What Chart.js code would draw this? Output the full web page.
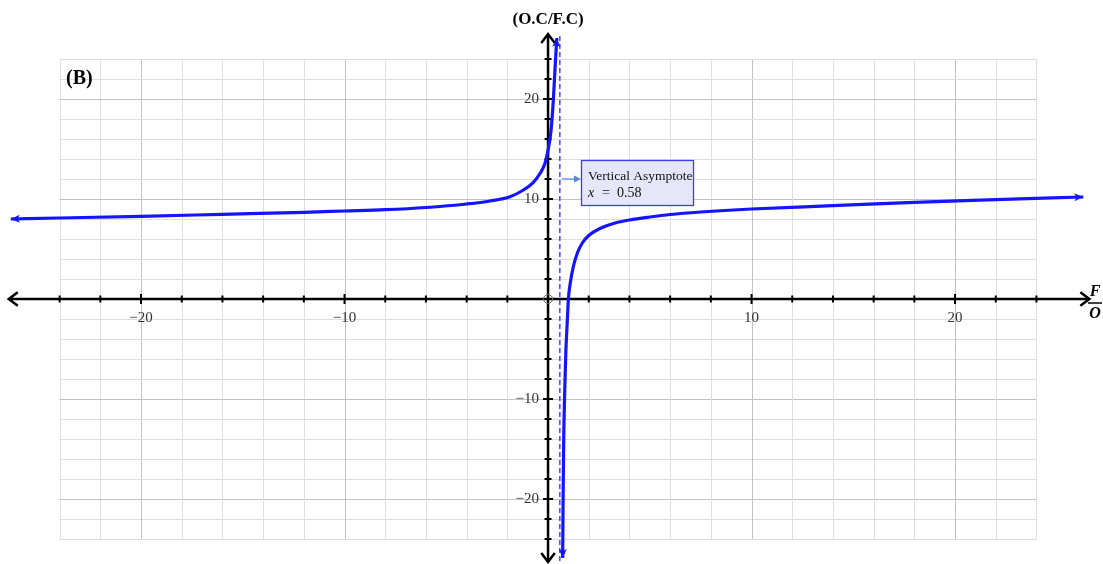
<!DOCTYPE html>
<html>
<head>
<meta charset="utf-8">
<script src="https://cdn.jsdelivr.net/npm/chart.js@4/dist/chart.umd.min.js"></script>
<style>
  body { margin: 0; background: #fff; }
  #wrap { width: 1103px; height: 564px; }
</style>
</head>
<body>
<div id="wrap"><canvas id="plot" width="1103" height="564"></canvas></div>
<script>
// curve, left branch and right branch of the asymptote
const leftX = [-26.4, -24, -20, -16, -12, -10, -8, -6, -4, -2.85, -1.87, -1.21, -0.72, -0.39, -0.15, 0, 0.15, 0.26, 0.34, 0.43];
const leftY = [8.0, 8.1, 8.27, 8.47, 8.67, 8.8, 8.93, 9.15, 9.5, 9.8, 10.23, 10.9, 11.67, 12.57, 13.57, 14.9, 16.9, 19.9, 22.9, 26.1];
const rightX = [0.72, 0.74, 0.77, 0.81, 0.85, 0.88, 0.92, 0.96, 1.0, 1.1, 1.25, 1.45, 1.7, 2.0, 2.5, 3.3, 4, 5, 6, 7.5, 10, 14, 18, 22, 26.3];
const rightY = [-25.9, -20, -14, -10, -7, -5, -3.3, -1.6, 0, 1.7, 3.3, 4.65, 5.65, 6.35, 7.0, 7.6, 7.9, 8.2, 8.45, 8.7, 9.0, 9.33, 9.67, 9.93, 10.2];
const asymptoteX = 0.58;
const xTickLabels = [-20, -10, 10, 20];
const yTickLabels = [20, 10, -10, -20];

const toPoints = (xs, ys) => xs.map((x, i) => ({ x: x, y: ys[i] }));
const serif = '"Liberation Serif", "Times New Roman", serif';
const curveColor = "#1414ff";

function arrowHead(ctx, x, y, ang, size) {
  ctx.save();
  ctx.translate(x, y);
  ctx.rotate(ang);
  ctx.beginPath();
  ctx.moveTo(0, 0);
  ctx.lineTo(-size, -size * 0.45);
  ctx.lineTo(-size * 0.75, 0);
  ctx.lineTo(-size, size * 0.45);
  ctx.closePath();
  ctx.fill();
  ctx.restore();
}

function chevron(ctx, x, y, ang, size) {
  ctx.save();
  ctx.translate(x, y);
  ctx.rotate(ang);
  ctx.beginPath();
  ctx.moveTo(-size, -size * 0.75);
  ctx.lineTo(0, 0);
  ctx.lineTo(-size, size * 0.75);
  ctx.stroke();
  ctx.restore();
}

const graphPaper = {
  id: "graphPaper",
  beforeDatasetsDraw(chart) {
    const ctx = chart.ctx;
    const sx = chart.scales.x, sy = chart.scales.y;
    const x0 = sx.getPixelForValue(0), y0 = sy.getPixelForValue(0);
    const gl = sx.getPixelForValue(-24), gr = sx.getPixelForValue(24);
    const gt = sy.getPixelForValue(24), gb = sy.getPixelForValue(-24);
    ctx.save();
    ctx.lineWidth = 1;
    for (let v = -24; v <= 24; v += 2) {
      ctx.strokeStyle = v % 10 === 0 ? "#c2c2c2" : "#dedede";
      const px = Math.round(sx.getPixelForValue(v)) + 0.5;
      ctx.beginPath(); ctx.moveTo(px, gt); ctx.lineTo(px, gb); ctx.stroke();
      const py = Math.round(sy.getPixelForValue(v)) + 0.5;
      ctx.beginPath(); ctx.moveTo(gl, py); ctx.lineTo(gr, py); ctx.stroke();
    }

    // axes
    ctx.strokeStyle = "#000";
    ctx.lineWidth = 2.5;
    const axL = sx.getPixelForValue(-26.5), axR = sx.getPixelForValue(26.6);
    const axT = sy.getPixelForValue(26.5), axB = sy.getPixelForValue(-26.3);
    ctx.beginPath(); ctx.moveTo(axL, y0); ctx.lineTo(axR, y0); ctx.stroke();
    ctx.beginPath(); ctx.moveTo(x0, axT); ctx.lineTo(x0, axB); ctx.stroke();
    chevron(ctx, axL, y0, Math.PI, 9);
    chevron(ctx, axR, y0, 0, 9);
    chevron(ctx, x0, axT, -Math.PI / 2, 9);
    chevron(ctx, x0, axB, Math.PI / 2, 9);

    ctx.lineWidth = 2;
    for (let v = -24; v <= 24; v += 2) {
      if (v === 0) continue;
      const len = v % 10 === 0 ? 5 : 3.5;
      const px = sx.getPixelForValue(v);
      ctx.beginPath(); ctx.moveTo(px, y0 - len); ctx.lineTo(px, y0 + len); ctx.stroke();
      const py = sy.getPixelForValue(v);
      ctx.beginPath(); ctx.moveTo(x0 - len, py); ctx.lineTo(x0 + len, py); ctx.stroke();
    }

    // origin marker
    ctx.lineWidth = 1;
    ctx.strokeStyle = "#666";
    ctx.beginPath(); ctx.arc(x0, y0, 4.5, 0, Math.PI * 2); ctx.stroke();

    // tick labels
    ctx.fillStyle = "#333";
    ctx.font = "15px " + serif;
    ctx.textAlign = "center";
    ctx.textBaseline = "middle";
    xTickLabels.forEach((v) => {
      ctx.fillText(String(v).replace("-", "\u2212"), sx.getPixelForValue(v), y0 + 19);
    });
    ctx.textAlign = "right";
    yTickLabels.forEach((v) => {
      ctx.fillText(String(v).replace("-", "\u2212"), x0 - 9, sy.getPixelForValue(v));
    });

    // asymptote
    const ax = sx.getPixelForValue(asymptoteX);
    ctx.strokeStyle = "#2a2aff";
    ctx.lineWidth = 1.3;
    ctx.setLineDash([5, 3]);
    ctx.beginPath(); ctx.moveTo(ax, axT + 2); ctx.lineTo(ax, 564); ctx.stroke();
    ctx.setLineDash([]);
    ctx.restore();
  },
  afterDatasetsDraw(chart) {
    const ctx = chart.ctx;
    const sx = chart.scales.x, sy = chart.scales.y;
    const x0 = sx.getPixelForValue(0);
    ctx.save();
    ctx.fillStyle = curveColor;
    chart.data.datasets.forEach((ds, i) => {
      const pts = chart.getDatasetMeta(i).data;
      const a = pts[0], b = pts[1];
      arrowHead(ctx, a.x, a.y, Math.atan2(a.y - b.y, a.x - b.x), 9);
      const c = pts[pts.length - 1], d = pts[pts.length - 2];
      arrowHead(ctx, c.x, c.y, Math.atan2(c.y - d.y, c.x - d.x), 9);
    });

    // annotation
    const ax = sx.getPixelForValue(asymptoteX);
    const by = sy.getPixelForValue(12);
    ctx.strokeStyle = "#5a86d6";
    ctx.fillStyle = "#5a86d6";
    ctx.lineWidth = 1.2;
    ctx.beginPath(); ctx.moveTo(ax + 2, by); ctx.lineTo(575, by); ctx.stroke();
    ctx.beginPath(); ctx.moveTo(581, by); ctx.lineTo(574, by - 3.5); ctx.lineTo(574, by + 3.5); ctx.closePath(); ctx.fill();
    ctx.fillStyle = "#e6e6fa";
    ctx.fillRect(581.5, 160.5, 112, 45);
    ctx.strokeStyle = "#3c3cf0";
    ctx.lineWidth = 1.3;
    ctx.strokeRect(581.5, 160.5, 112, 45);
    ctx.fillStyle = "#111";
    ctx.textAlign = "left";
    ctx.textBaseline = "middle";
    ctx.font = "13.5px " + serif;
    ctx.fillText("Vertical Asymptote", 588, 176);
    ctx.font = "italic 14px " + serif;
    ctx.fillText("x", 588, 193);
    ctx.font = "14px " + serif;
    ctx.fillText("=  0.58", 602, 193);

    // titles
    ctx.fillStyle = "#000";
    ctx.strokeStyle = "#000";
    ctx.textAlign = "center";
    ctx.font = "bold 17px " + serif;
    ctx.fillText("(O.C/F.C)", x0, 20);
    ctx.font = "bold 20px " + serif;
    ctx.textAlign = "left";
    ctx.fillText("(B)", 66, 79);
    ctx.font = "italic bold 16px " + serif;
    ctx.textAlign = "center";
    ctx.fillText("F", 1095, 292);
    ctx.fillText("O", 1095, 314);
    ctx.lineWidth = 1.5;
    ctx.beginPath(); ctx.moveTo(1088, 303); ctx.lineTo(1102, 303); ctx.stroke();
    ctx.restore();
  },
};

const lineStyle = {
  showLine: true,
  borderColor: curveColor,
  borderWidth: 3.2,
  pointRadius: 0,
  cubicInterpolationMode: "monotone",
  fill: false,
};

new Chart(document.getElementById("plot"), {
  type: "scatter",
  data: {
    datasets: [
      Object.assign({ label: "left", data: toPoints(leftX, leftY) }, lineStyle),
      Object.assign({ label: "right", data: toPoints(rightX, rightY) }, lineStyle),
    ],
  },
  options: {
    responsive: false,
    animation: false,
    layout: { padding: 0 },
    plugins: { legend: { display: false }, tooltip: { enabled: false } },
    scales: {
      x: { type: "linear", min: -26.93, max: 27.27, display: false },
      y: { type: "linear", min: -26.5, max: 29.9, display: false },
    },
  },
  plugins: [graphPaper],
});
</script>
</body>
</html>
